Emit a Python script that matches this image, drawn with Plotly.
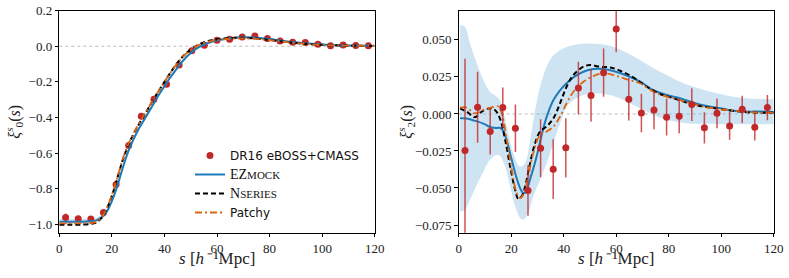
import plotly.graph_objects as go

# ---------------- data ----------------
S_DATA = [2.4, 7.2, 12.0, 16.8, 21.6, 26.4, 31.2, 36.0, 40.8, 45.6, 50.4, 55.2, 60.0,
          64.8, 69.6, 74.4, 79.2, 84.0, 88.8, 93.6, 98.4, 103.2, 108.0, 112.8, 117.6]

XI0_DATA = [-0.961, -0.968, -0.970, -0.933, -0.776, -0.557, -0.393, -0.298, -0.213, -0.106,
            -0.026, 0.006, 0.034, 0.039, 0.052, 0.058, 0.043, 0.030, 0.022, 0.021,
            0.011, 0.002, 0.007, 0.004, 0.002]
XI0_ERR = [0.022, 0.008, 0.007, 0.008, 0.008, 0.008, 0.007, 0.007, 0.006, 0.006, 0.005, 0.005,
           0.005, 0.005, 0.005, 0.004, 0.004, 0.004, 0.004, 0.004, 0.003, 0.003, 0.003, 0.003, 0.003]

XI2_DATA = [-0.0247, 0.0045, -0.0119, 0.0043, -0.0097, -0.0517, -0.0231, -0.0373, -0.0229, 0.0175,
            0.0124, 0.0279, 0.0573, 0.0099, 0.0007, 0.0027, -0.0022, -0.0016, 0.0063, -0.0094,
            0.0004, -0.0081, 0.0031, -0.0090, 0.0043]
XI2_ERR = [0.062, 0.024, 0.0155, 0.0135, 0.016, 0.017, 0.0196, 0.0202, 0.020, 0.0178,
           0.0177, 0.0163, 0.0157, 0.0143, 0.013, 0.013, 0.0124, 0.0115, 0.011, 0.0106,
           0.010, 0.0094, 0.0092, 0.009, 0.0085]

# model curves, monopole
S0_GRID = [0, 4, 8, 12, 14, 16, 18, 20, 22, 24, 26, 28, 30, 32, 34, 36, 38, 40, 42, 44, 46, 48,
           50, 52, 54, 56, 58, 60, 65, 70, 75, 80, 85, 90, 95, 100, 105, 110, 115, 120]
XI0_EZ = [-0.985, -0.985, -0.985, -0.983, -0.978, -0.962, -0.93, -0.87, -0.79, -0.69, -0.60,
          -0.53, -0.47, -0.42, -0.37, -0.32, -0.27, -0.225, -0.18, -0.14, -0.10, -0.066,
          -0.038, -0.015, 0.002, 0.015, 0.025, 0.033, 0.045, 0.050, 0.048, 0.040, 0.030,
          0.022, 0.015, 0.010, 0.006, 0.004, 0.003, 0.002]
XI0_EZ_LO = [-1.000, -1.000, -1.000, -0.998, -0.992, -0.975, -0.942, -0.882, -0.80, -0.70, -0.61,
             -0.54, -0.48, -0.43, -0.38, -0.33, -0.28, -0.234, -0.189, -0.148, -0.108, -0.073,
             -0.045, -0.021, -0.004, 0.009, 0.019, 0.027, 0.039, 0.044, 0.042, 0.034, 0.025,
             0.017, 0.010, 0.005, 0.001, -0.001, -0.002, -0.003]
XI0_EZ_HI = [-0.970, -0.970, -0.970, -0.968, -0.964, -0.949, -0.918, -0.858, -0.78, -0.68, -0.59,
             -0.52, -0.46, -0.41, -0.36, -0.31, -0.26, -0.216, -0.171, -0.132, -0.092, -0.059,
             -0.031, -0.009, 0.008, 0.021, 0.031, 0.039, 0.051, 0.056, 0.054, 0.046, 0.035,
             0.027, 0.020, 0.015, 0.011, 0.009, 0.008, 0.007]
XI0_NS = [-1.003, -1.003, -1.002, -0.998, -0.99, -0.965, -0.915, -0.84, -0.745, -0.645, -0.565,
          -0.50, -0.445, -0.395, -0.345, -0.295, -0.247, -0.200, -0.155, -0.112, -0.074, -0.043,
          -0.019, 0.001, 0.016, 0.027, 0.034, 0.039, 0.046, 0.047, 0.043, 0.035, 0.026,
          0.018, 0.012, 0.008, 0.005, 0.003, 0.002, 0.001]
XI0_PA = [-0.995, -0.995, -0.995, -0.993, -0.986, -0.962, -0.912, -0.835, -0.74, -0.64, -0.56,
          -0.497, -0.442, -0.392, -0.343, -0.293, -0.246, -0.200, -0.156, -0.114, -0.076, -0.045,
          -0.021, -0.002, 0.012, 0.023, 0.030, 0.035, 0.042, 0.044, 0.041, 0.034, 0.026,
          0.018, 0.012, 0.008, 0.005, 0.003, 0.002, 0.001]

# model curves, quadrupole
S2_EZ = [0.5, 3, 6, 9.4, 11.9, 14.5, 15.7, 17, 18.3, 20.2, 22.1, 23.5, 24.6, 25.6, 27.2, 29.5, 31.5,
         33.5, 36.1, 38.6, 41.1, 43.7, 47.5, 51.3, 55.1, 58.9, 64, 69.1, 74.2, 79.2, 84.3, 89.4,
         94.5, 99.6, 104.6, 109.7, 114.8, 120]
XI2_EZ = [-0.0029, -0.003, -0.0045, -0.0065, -0.0088, -0.0095, -0.0093, -0.0115, -0.018, -0.031,
          -0.0435, -0.0505, -0.0535, -0.0525, -0.044, -0.030, -0.015, -0.002, 0.0094, 0.016,
          0.0207, 0.0247, 0.0285, 0.0303, 0.0303, 0.029, 0.026, 0.0218, 0.016, 0.0128, 0.0106,
          0.0076, 0.0054, 0.0038, 0.0022, 0.0016, 0.0016, 0.0013]
S2_NS = [0.5, 3, 6.2, 8.8, 11.9, 13.8, 15.7, 17.7, 19.6, 21.5, 22.7, 24, 25.3, 27.2, 29.1, 31,
         33.5, 36.1, 38.6, 41.1, 43.7, 47.5, 50, 53.8, 57.7, 61.5, 66.5, 71.6, 76.7, 81.8, 86.9,
         91.9, 97, 102.1, 107.2, 112.3, 120]
XI2_NS = [0.0038, 0.0016, -0.0022, 0.0016, 0.0038, 0.0027, -0.003, -0.0175, -0.0355, -0.0512,
          -0.0573, -0.0557, -0.049, -0.0332, -0.0198, -0.0119, -0.0085, -0.0029, 0.0072, 0.0184,
          0.0263, 0.0319, 0.033, 0.0319, 0.0314, 0.0292, 0.0247, 0.0184, 0.0135, 0.0106, 0.0076,
          0.0054, 0.004, 0.0027, 0.0016, 0.0009, 0.0009]
S2_PA = [0.5, 3, 6.2, 9.4, 12.6, 15.1, 16.4, 18.3, 20.2, 22.1, 23.4, 24.6, 26.5, 28.4, 31, 33.5,
         36.1, 38.6, 41.1, 43.7, 47.5, 51.3, 55.1, 58.9, 64, 69.1, 74.2, 79.2, 84.3, 89.4, 94.5,
         99.6, 104.6, 112.3, 120]
XI2_PA = [0.0043, 0.0043, 0.0004, 0.0027, 0.0045, 0.005, 0.0004, -0.0175, -0.0377, -0.0535,
          -0.0568, -0.0546, -0.0422, -0.0265, -0.0141, -0.0119, -0.0085, -0.0018, 0.0072, 0.015,
          0.0218, 0.0256, 0.0274, 0.0263, 0.0234, 0.0207, 0.015, 0.0117, 0.0094, 0.0067, 0.0045,
          0.0031, 0.0022, 0.0011, 0.0009]
S2_BAND_HI = [0.5, 2.4, 4.3, 6.9, 9.4, 11.9, 14.5, 15.7, 17, 18.9, 20.8, 23.4, 25.3, 27.2, 29.1, 31,
              33.5, 36.1, 39.9, 43.7, 48.8, 53.8, 58.9, 64, 69.1, 74.2, 79.2, 84.3, 89.4, 94.5,
              99.6, 104.6, 109.7, 114.8, 120]
XI2_BAND_HI = [0.060, 0.0588, 0.0476, 0.0341, 0.0229, 0.015, 0.0117, 0.0094, 0.0016, -0.013,
               -0.0265, -0.0355, -0.0332, -0.0175, 0.0027, 0.0184, 0.0319, 0.0397, 0.0442, 0.0465,
               0.0476, 0.0472, 0.0454, 0.0413, 0.0364, 0.0308, 0.0263, 0.0218, 0.0184, 0.0157,
               0.0135, 0.0117, 0.0106, 0.0101, 0.0099]
S2_BAND_LO = [0.5, 2.4, 4.3, 6.9, 9.4, 11.9, 14.5, 15.7, 17.7, 19.6, 21.5, 23.4, 24.6, 26.5, 28.4,
              31, 33.5, 36.1, 38.6, 41.1, 43.7, 47.5, 51.3, 55.1, 58.9, 64, 69.1, 74.2, 79.2, 84.3,
              89.4, 94.5, 99.6, 109.7, 120]
XI2_BAND_LO = [-0.0658, -0.0647, -0.058, -0.0478, -0.0389, -0.031, -0.0276, -0.0283, -0.0355,
               -0.049, -0.0624, -0.0703, -0.0714, -0.0669, -0.0557, -0.0445, -0.0332, -0.0198,
               -0.0063, 0.0049, 0.0094, 0.0128, 0.0139, 0.0135, 0.0121, 0.0083, 0.0038, -0.0007,
               -0.004, -0.0058, -0.0067, -0.0067, -0.007, -0.007, -0.007]

Y0_TICKS = [-1.0, -0.8, -0.6, -0.4, -0.2, 0.0, 0.2]
Y2_TICKS = [-0.075, -0.050, -0.025, 0.0, 0.025, 0.050]
X_TICKS = [0, 20, 40, 60, 80, 100, 120]

# ---------------- style ----------------
RED = "#c0282a"
RED_ERR = "rgba(192,40,42,0.8)"
BLUE = "#1f7ab8"
ORANGE = "#dd6410"
BAND = "rgba(120,180,220,0.36)"
SERIF = "Liberation Serif"
SANS = "DejaVu Sans"

fig = go.Figure()

# left panel
fig.add_trace(go.Scatter(x=S0_GRID, y=XI0_EZ_LO, mode="lines", line=dict(width=0, shape="spline"),
                         showlegend=False, hoverinfo="skip", xaxis="x", yaxis="y"))
fig.add_trace(go.Scatter(x=S0_GRID, y=XI0_EZ_HI, mode="lines", line=dict(width=0, shape="spline"),
                         fill="tonexty", fillcolor=BAND, showlegend=False, hoverinfo="skip",
                         xaxis="x", yaxis="y"))
fig.add_trace(go.Scatter(x=S_DATA, y=XI0_DATA, mode="markers", name="DR16 eBOSS+CMASS",
                         marker=dict(color=RED, size=7),
                         error_y=dict(type="data", array=XI0_ERR, color=RED_ERR, thickness=1.5, width=0),
                         xaxis="x", yaxis="y"))
fig.add_trace(go.Scatter(x=S0_GRID, y=XI0_EZ, mode="lines",
                         name="<span style='font-family:Liberation Serif;font-size:14px'>EZ<span style='font-size:11px'>MOCK</span></span>",
                         line=dict(color=BLUE, width=2, shape="spline"), xaxis="x", yaxis="y"))
fig.add_trace(go.Scatter(x=S0_GRID, y=XI0_NS, mode="lines",
                         name="<span style='font-family:Liberation Serif;font-size:14px'>N<span style='font-size:11px'>SERIES</span></span>",
                         line=dict(color="black", width=2, dash="5px,3px", shape="spline"),
                         xaxis="x", yaxis="y"))
fig.add_trace(go.Scatter(x=S0_GRID, y=XI0_PA, mode="lines", name="Patchy",
                         line=dict(color=ORANGE, width=1.8, dash="7px,3px,2px,3px", shape="spline"),
                         xaxis="x", yaxis="y"))

# right panel
fig.add_trace(go.Scatter(x=S2_BAND_LO, y=XI2_BAND_LO, mode="lines", line=dict(width=0, shape="spline"),
                         showlegend=False, hoverinfo="skip", xaxis="x2", yaxis="y2"))
fig.add_trace(go.Scatter(x=S2_BAND_HI, y=XI2_BAND_HI, mode="lines", line=dict(width=0, shape="spline"),
                         fill="tonexty", fillcolor=BAND, showlegend=False, hoverinfo="skip",
                         xaxis="x2", yaxis="y2"))
fig.add_trace(go.Scatter(x=S2_EZ, y=XI2_EZ, mode="lines", showlegend=False,
                         line=dict(color=BLUE, width=2, shape="spline"), xaxis="x2", yaxis="y2"))
fig.add_trace(go.Scatter(x=S2_NS, y=XI2_NS, mode="lines", showlegend=False,
                         line=dict(color="black", width=2, dash="5px,3px", shape="spline"),
                         xaxis="x2", yaxis="y2"))
fig.add_trace(go.Scatter(x=S2_PA, y=XI2_PA, mode="lines", showlegend=False,
                         line=dict(color=ORANGE, width=1.8, dash="7px,3px,2px,3px", shape="spline"),
                         xaxis="x2", yaxis="y2"))
fig.add_trace(go.Scatter(x=S_DATA, y=XI2_DATA, mode="markers", showlegend=False,
                         marker=dict(color=RED, size=7),
                         error_y=dict(type="data", array=XI2_ERR, color=RED_ERR, thickness=1.5, width=0),
                         xaxis="x2", yaxis="y2"))

W, H = 789, 278
x1 = [59.3 / W, 374.7 / W]
x2 = [458.7 / W, 773.7 / W]
ydom = [(H - 232.7) / H, (H - 10.6) / H]

axis_common = dict(showgrid=False, zeroline=False, showline=True, linecolor="black", linewidth=1,
                   mirror=True, ticks="outside", ticklen=3.5, tickwidth=1, tickcolor="black",
                   automargin=False,
                   tickfont=dict(family=SERIF, size=13, color="#222"))

XTITLE = "<i>s</i> [<i>h</i>\u2009⁻¹Mpc]"

fig.update_layout(
    width=W, height=H, margin=dict(l=0, r=0, t=0, b=0, pad=0, autoexpand=False),
    paper_bgcolor="white", plot_bgcolor="white",
    xaxis=dict(domain=x1, range=[0, 120], tickvals=X_TICKS, anchor="y", **axis_common),
    yaxis=dict(domain=ydom, range=[-1.047, 0.2], tickvals=Y0_TICKS, tickformat=".1f",
               anchor="x", **axis_common),
    xaxis2=dict(domain=x2, range=[0, 120], tickvals=X_TICKS, anchor="y2", **axis_common),
    yaxis2=dict(domain=ydom, range=[-0.0802, 0.0698], tickvals=Y2_TICKS, tickformat=".3f",
                anchor="x2", **axis_common),
    showlegend=True,
    legend=dict(x=190 / W, y=(H - 141) / H, xanchor="left", yanchor="top",
                bgcolor="rgba(255,255,255,0)", borderwidth=0, traceorder="normal",
                font=dict(family=SANS, size=12, color="#111"), itemwidth=30,
                tracegroupgap=0),
    shapes=[
        dict(type="line", xref="x domain", yref="y", x0=0, x1=1, y0=0, y1=0,
             line=dict(color="#bbbbbb", width=1, dash="dot"), layer="below"),
        dict(type="line", xref="x2 domain", yref="y2", x0=0, x1=1, y0=0, y1=0,
             line=dict(color="#bbbbbb", width=1, dash="dot"), layer="below"),
    ],
    annotations=[
        dict(text=XTITLE, xref="paper", yref="paper",
             x=(x1[0] + x1[1]) / 2, y=(H - 258) / H, showarrow=False,
             font=dict(family=SERIF, size=17, color="#222"), xanchor="center", yanchor="middle"),
        dict(text=XTITLE, xref="paper", yref="paper",
             x=(x2[0] + x2[1]) / 2, y=(H - 258) / H, showarrow=False,
             font=dict(family=SERIF, size=17, color="#222"), xanchor="center", yanchor="middle"),
        dict(text="<i>ξ</i><sup><i>s</i></sup><sub>0</sub>(<i>s</i>)", xref="paper", yref="paper",
             x=14 / W, y=(ydom[0] + ydom[1]) / 2, showarrow=False, textangle=-90,
             font=dict(family=SERIF, size=16, color="#222"), xanchor="center", yanchor="middle"),
        dict(text="<i>ξ</i><sup><i>s</i></sup><sub>2</sub>(<i>s</i>)", xref="paper", yref="paper",
             x=406 / W, y=(ydom[0] + ydom[1]) / 2, showarrow=False, textangle=-90,
             font=dict(family=SERIF, size=16, color="#222"), xanchor="center", yanchor="middle"),
    ],
)

fig.write_html("out.html", config={"displayModeBar": False},
               post_script="document.body.style.margin='0';document.body.style.padding='0';")
